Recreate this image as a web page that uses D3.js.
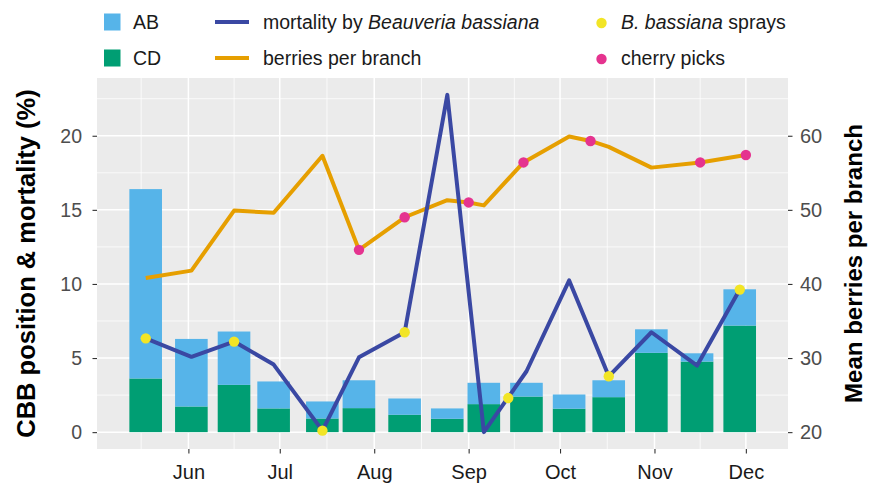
<!DOCTYPE html>
<html>
<head>
<meta charset="utf-8">
<script src="https://cdn.jsdelivr.net/npm/d3@7"></script>
<style>
  body { margin: 0; background: #fff; }
  svg text { font-family: "Liberation Sans", Arial, sans-serif; }
</style>
</head>
<body>
<div id="chart"></div>
<script>
// sampling dates (bars + mortality line)
const sampleDates = ["2017-05-18", "2017-06-02", "2017-06-16", "2017-06-29", "2017-07-15",
  "2017-07-27", "2017-08-11", "2017-08-25", "2017-09-06", "2017-09-20",
  "2017-10-04", "2017-10-17", "2017-10-31", "2017-11-15", "2017-11-29"]
const cdValues = [3.62, 1.73, 3.19, 1.6, 0.92, 1.62, 1.17, 0.9, 1.89, 2.4, 1.58, 2.36, 5.35, 4.76, 7.19]
const abValues = [12.78, 4.56, 3.6, 1.82, 1.15, 1.88, 1.1, 0.7, 1.44, 0.93, 0.96, 1.14, 1.59, 0.56, 2.45]
const mortality = [6.33, 5.08, 6.11, 4.56, 0.1, 5.05, 6.74, 22.76, 0, 4.11, 10.24, 3.77, 6.74, 4.49, 9.62]

// berries per branch (secondary axis)
const berryDates = ["2017-05-18", "2017-06-02", "2017-06-16", "2017-06-29", "2017-07-15",
  "2017-07-27", "2017-08-11", "2017-08-25", "2017-09-01", "2017-09-06", "2017-09-19",
  "2017-10-04", "2017-10-11", "2017-10-17", "2017-10-31", "2017-11-16", "2017-12-01"]
const berryValues = [40.8, 41.8, 49.9, 49.6, 57.3, 44.6, 49.0, 51.3, 51.0, 50.6, 56.4,
  59.9, 59.3, 58.5, 55.7, 56.4, 57.4]

// events
const sprayDates = ["2017-05-18", "2017-06-16", "2017-07-15", "2017-08-11", "2017-09-14", "2017-10-17", "2017-11-29"]
const sprayValues = [6.33, 6.11, 0.1, 6.74, 2.3, 3.77, 9.62]
const pickDates = ["2017-07-27", "2017-08-11", "2017-09-01", "2017-09-19", "2017-10-11", "2017-11-16", "2017-12-01"]
const pickValues = [44.6, 49.0, 51.0, 56.4, 59.3, 56.4, 57.4]

const leftTicks = [0, 5, 10, 15, 20]
const rightTicks = [20, 30, 40, 50, 60]
const monthLabels = ["Jun", "Jul", "Aug", "Sep", "Oct", "Nov", "Dec"]

const parse = d3.timeParse("%Y-%m-%d")
const colors = { AB: "#56B4E9", CD: "#009E73", mort: "#3A48A3", berry: "#E69F00", spray: "#F2E526", pick: "#E5338F" }

const width = 871, height = 484
const panel = { left: 97, right: 788, top: 78, bottom: 449 }

const svg = d3.select("#chart").append("svg")
  .attr("width", width)
  .attr("height", height)

// scales
const x = d3.scaleTime()
  .domain([parse("2017-05-02"), new Date(2017, 11, 14, 20)])
  .range([panel.left, panel.right])

const yMax = d3.max(mortality)
const y = d3.scaleLinear()
  .domain([-0.05 * yMax, yMax * 1.05])
  .range([panel.bottom, panel.top])
// berries = 20 + 2 * left value
const yR = d3.scaleLinear()
  .domain(y.domain().map(v => 20 + 2 * v))
  .range(y.range())

// panel background + grid
svg.append("rect")
  .attr("x", panel.left).attr("y", panel.top)
  .attr("width", panel.right - panel.left)
  .attr("height", panel.bottom - panel.top)
  .attr("fill", "#EBEBEB")

const grid = svg.append("g")
const monthStarts = d3.timeMonth.range(parse("2017-05-01"), parse("2018-01-02"))
const minorX = d3.pairs(monthStarts).map(p => new Date((p[0].getTime() + p[1].getTime()) / 2))
  .filter(d => x(d) > panel.left && x(d) < panel.right)
const majorX = monthStarts.filter(d => x(d) > panel.left && x(d) < panel.right)

grid.selectAll(".minx").data(minorX).join("line")
  .attr("x1", d => x(d)).attr("x2", d => x(d))
  .attr("y1", panel.top).attr("y2", panel.bottom)
  .attr("stroke", "#fff").attr("stroke-width", 0.75)
grid.selectAll(".miny").data([2.5, 7.5, 12.5, 17.5, 22.5]).join("line")
  .attr("x1", panel.left).attr("x2", panel.right)
  .attr("y1", d => y(d)).attr("y2", d => y(d))
  .attr("stroke", "#fff").attr("stroke-width", 0.75)
grid.selectAll(".majx").data(majorX).join("line")
  .attr("x1", d => x(d)).attr("x2", d => x(d))
  .attr("y1", panel.top).attr("y2", panel.bottom)
  .attr("stroke", "#fff").attr("stroke-width", 1.5)
grid.selectAll(".majy").data(leftTicks).join("line")
  .attr("x1", panel.left).attr("x2", panel.right)
  .attr("y1", d => y(d)).attr("y2", d => y(d))
  .attr("stroke", "#fff").attr("stroke-width", 1.5)

// stacked bars, CD at the bottom
const barDays = 10.7
const barData = sampleDates.map((d, i) => ({ date: parse(d), CD: cdValues[i], AB: abValues[i] }))
const stack = d3.stack().keys(["CD", "AB"])(barData)
const half = d => [d3.timeHour.offset(d, -barDays * 12), d3.timeHour.offset(d, barDays * 12)]

svg.append("g").selectAll("g").data(stack).join("g")
  .attr("fill", s => colors[s.key])
  .selectAll("rect").data(s => s).join("rect")
  .attr("x", d => x(half(d.data.date)[0]))
  .attr("width", d => x(half(d.data.date)[1]) - x(half(d.data.date)[0]))
  .attr("y", d => y(d[1]))
  .attr("height", d => y(d[0]) - y(d[1]))

// lines
const berryLine = d3.line().x(d => x(d[0])).y(d => yR(d[1]))
svg.append("path")
  .datum(berryDates.map((d, i) => [parse(d), berryValues[i]]))
  .attr("d", berryLine)
  .attr("fill", "none").attr("stroke", colors.berry)
  .attr("stroke-width", 4).attr("stroke-linejoin", "round")

const mortLine = d3.line().x(d => x(d[0])).y(d => y(d[1]))
svg.append("path")
  .datum(sampleDates.map((d, i) => [parse(d), mortality[i]]))
  .attr("d", mortLine)
  .attr("fill", "none").attr("stroke", colors.mort)
  .attr("stroke-width", 4).attr("stroke-linejoin", "round")

// event points
svg.append("g").selectAll("circle")
  .data(pickDates.map((d, i) => [parse(d), pickValues[i]]))
  .join("circle")
  .attr("cx", d => x(d[0])).attr("cy", d => yR(d[1]))
  .attr("r", 5.2).attr("fill", colors.pick)
svg.append("g").selectAll("circle")
  .data(sprayDates.map((d, i) => [parse(d), sprayValues[i]]))
  .join("circle")
  .attr("cx", d => x(d[0])).attr("cy", d => y(d[1]))
  .attr("r", 5.2).attr("fill", colors.spray)

// axes
function styleAxis(g, color, size) {
  g.select(".domain").remove()
  g.selectAll(".tick line").attr("stroke", "#333").attr("stroke-width", 1.1)
  g.selectAll(".tick text").attr("fill", color).attr("font-size", size)
    .attr("font-family", "Liberation Sans, Arial, sans-serif")
}

svg.append("g")
  .attr("transform", `translate(${panel.left},0)`)
  .call(d3.axisLeft(y).tickValues(leftTicks).tickSize(4.5).tickPadding(10.5))
  .call(g => styleAxis(g, "#4D4D4D", 19.5))

svg.append("g")
  .attr("transform", `translate(${panel.right},0)`)
  .call(d3.axisRight(yR).tickValues(rightTicks).tickSize(4.5).tickPadding(7.5))
  .call(g => styleAxis(g, "#4D4D4D", 20))

const monthTicks = monthLabels.map((m, i) => new Date(2017, 5 + i, 1))
svg.append("g")
  .attr("transform", `translate(0,${panel.bottom})`)
  .call(d3.axisBottom(x).tickValues(monthTicks).tickSize(4.5).tickPadding(11.5)
    .tickFormat((d, i) => monthLabels[i]))
  .call(g => styleAxis(g, "#1A1A1A", 20))

// axis titles
svg.append("text")
  .attr("transform", `translate(35,${(panel.top + panel.bottom) / 2}) rotate(-90)`)
  .attr("text-anchor", "middle")
  .attr("font-size", 25.5).attr("font-weight", "bold").attr("fill", "#000")
  .text("CBB position & mortality (%)")

svg.append("text")
  .attr("transform", `translate(862,${(panel.top + panel.bottom) / 2}) rotate(-90)`)
  .attr("text-anchor", "middle")
  .attr("font-size", 24).attr("font-weight", "bold").attr("fill", "#000")
  .text("Mean berries per branch")

// legend
const legend = svg.append("g").attr("font-size", 19.5).attr("fill", "#1A1A1A")
const rows = [22, 58]

legend.selectAll(".sq").data(["AB", "CD"]).join("rect")
  .attr("x", 104).attr("y", (d, i) => rows[i] - 8.5)
  .attr("width", 16.5).attr("height", 17)
  .attr("fill", d => colors[d])
legend.selectAll(".sqt").data(["AB", "CD"]).join("text")
  .attr("x", 133).attr("y", (d, i) => rows[i]).attr("dy", "0.36em")
  .text(d => d)

legend.selectAll(".ln").data(["mort", "berry"]).join("line")
  .attr("x1", 215).attr("x2", 249)
  .attr("y1", (d, i) => rows[i]).attr("y2", (d, i) => rows[i])
  .attr("stroke", d => colors[d]).attr("stroke-width", 4)

const t1 = legend.append("text").attr("x", 263).attr("y", rows[0]).attr("dy", "0.36em")
t1.append("tspan").text("mortality by ")
t1.append("tspan").attr("font-style", "italic").text("Beauveria bassiana")
legend.append("text").attr("x", 263).attr("y", rows[1]).attr("dy", "0.36em")
  .text("berries per branch")

legend.selectAll(".pt").data(["spray", "pick"]).join("circle")
  .attr("cx", 601.5).attr("cy", (d, i) => rows[i] + 1)
  .attr("r", 5.2).attr("fill", d => colors[d])
const t2 = legend.append("text").attr("x", 621).attr("y", rows[0]).attr("dy", "0.36em")
t2.append("tspan").attr("font-style", "italic").text("B. bassiana")
t2.append("tspan").text(" sprays")
legend.append("text").attr("x", 621).attr("y", rows[1]).attr("dy", "0.36em")
  .text("cherry picks")
</script>
</body>
</html>
